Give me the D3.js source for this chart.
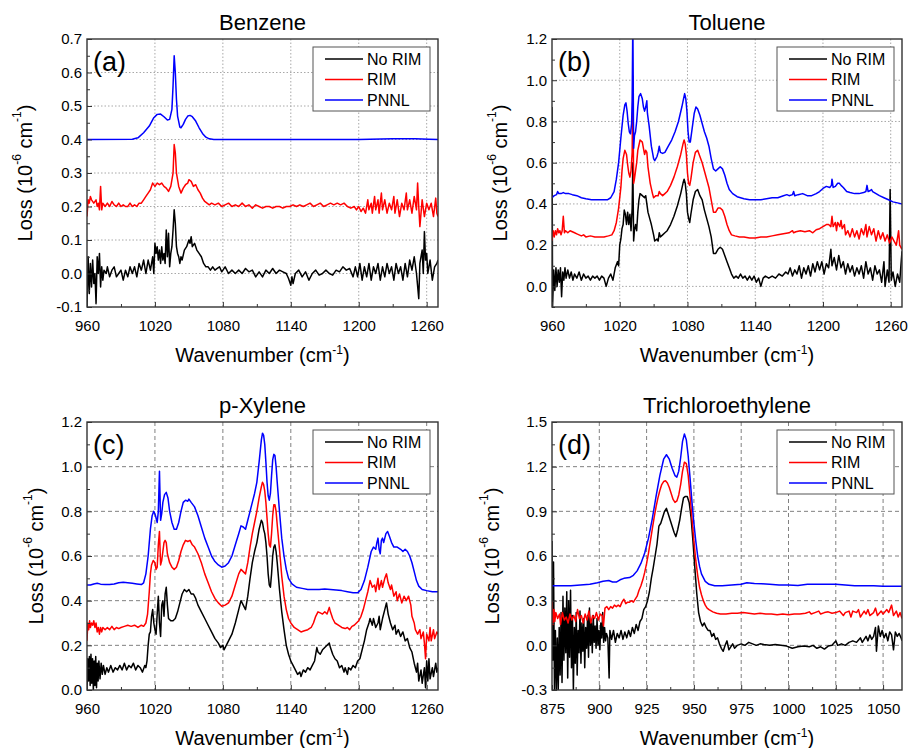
<!DOCTYPE html>
<html lang="en">
<head>
<meta charset="utf-8">
<title>Spectra</title>
<script src="https://d3js.org/d3.v7.min.js"></script>
<style>
  body { margin: 0; background: #fff; }
  svg text { font-family: "Liberation Sans", Arial, sans-serif; fill: #000; }
</style>
</head>
<body>
<svg id="chart" width="911" height="748"></svg>
<script>
// legend entries and colours
var seriesNames = ["No RIM", "RIM", "PNNL"];
var seriesColors = ["#000000", "#ff0000", "#0000ff"];

// ---- (a) Benzene ----
var benzeneNoRim = [[960,-0.1],[961,0.05],[962,-0.06],[963,0.03],[964,-0.04],[965,0.04],[966,-0.03],[967,0.0],[968,-0.09],[969,0.05],[970,0.0],[971,0.06],[972,-0.04],[973,0.02],[974,-0.02],[975,0.01],[977,0.0],[978,0.02],[980,-0.01],[982,0.01],[984,0.02],[986,-0.01],[988,0.0],[990,0.01],[992,-0.02],[994,0.01],[996,-0.01],[998,0.02],[1000,0.0],[1002,0.02],[1004,-0.01],[1006,0.03],[1008,0.01],[1010,0.04],[1012,0.0],[1014,0.04],[1016,0.01],[1018,0.05],[1019,0.0],[1020,0.09],[1021,0.06],[1022,0.08],[1023,0.04],[1024,0.07],[1025,0.03],[1026,0.08],[1027,0.04],[1028,0.06],[1029,0.03],[1030,0.13],[1031,0.05],[1032,0.12],[1033,0.02],[1034,0.06],[1035,0.08],[1036,0.13],[1037,0.19],[1038,0.15],[1039,0.08],[1040,0.06],[1041,0.05],[1042,0.03],[1043,0.05],[1044,0.04],[1046,0.07],[1048,0.08],[1050,0.1],[1051,0.09],[1052,0.11],[1053,0.08],[1055,0.09],[1057,0.07],[1059,0.06],[1061,0.05],[1063,0.03],[1065,0.02],[1067,0.02],[1069,0.01],[1071,0.02],[1073,0.01],[1075,0.015],[1077,0.02],[1079,0.005],[1082,0.02],[1085,0.0],[1088,0.01],[1091,0.0],[1094,0.01],[1097,0.0],[1100,0.015],[1103,0.005],[1106,0.01],[1109,-0.01],[1112,0.005],[1115,-0.01],[1118,0.01],[1121,0.0],[1124,0.015],[1127,0.0],[1130,0.01],[1133,0.005],[1136,0.0],[1138,-0.015],[1140,-0.035],[1141,-0.01],[1142,-0.03],[1144,0.0],[1147,0.01],[1150,-0.01],[1153,0.005],[1156,-0.02],[1159,0.0],[1162,0.01],[1165,-0.005],[1168,0.0],[1171,0.01],[1174,0.0],[1177,-0.005],[1180,0.01],[1183,0.005],[1186,0.02],[1189,0.01],[1192,0.015],[1195,-0.01],[1197,0.02],[1199,-0.01],[1201,0.03],[1203,-0.02],[1205,0.02],[1207,-0.01],[1209,0.03],[1211,-0.02],[1213,0.02],[1215,0.0],[1217,0.03],[1219,-0.02],[1221,0.02],[1223,-0.01],[1225,0.03],[1227,0.0],[1229,0.02],[1231,-0.02],[1233,0.03],[1235,0.0],[1237,0.02],[1239,-0.02],[1241,0.03],[1243,-0.01],[1245,0.04],[1247,0.01],[1249,0.05],[1251,0.0],[1253,-0.075],[1254,0.03],[1256,0.07],[1257,0.0],[1258,0.125],[1259,0.04],[1260,0.06],[1261,0.0],[1263,0.04],[1265,-0.02],[1267,0.02],[1269,0.03],[1270,0.04]];
var benzeneRim = [[960,0.17],[961,0.22],[962,0.21],[963,0.23],[964,0.22],[966,0.21],[968,0.22],[969,0.2],[970,0.21],[971,0.19],[972,0.26],[973,0.19],[974,0.21],[976,0.2],[978,0.21],[980,0.2],[982,0.215],[984,0.205],[986,0.2],[988,0.21],[990,0.2],[992,0.205],[994,0.2],[996,0.2],[998,0.21],[1000,0.2],[1002,0.205],[1004,0.2],[1006,0.21],[1008,0.21],[1010,0.22],[1012,0.23],[1014,0.24],[1016,0.25],[1018,0.27],[1020,0.26],[1022,0.27],[1024,0.265],[1026,0.27],[1028,0.26],[1030,0.255],[1032,0.245],[1034,0.26],[1036,0.3],[1037,0.385],[1038,0.36],[1039,0.3],[1041,0.26],[1043,0.24],[1045,0.255],[1047,0.265],[1049,0.27],[1050,0.28],[1052,0.275],[1054,0.26],[1056,0.265],[1058,0.25],[1060,0.24],[1062,0.225],[1064,0.215],[1066,0.21],[1068,0.205],[1070,0.21],[1073,0.205],[1076,0.21],[1079,0.2],[1082,0.205],[1085,0.21],[1088,0.2],[1091,0.205],[1094,0.2],[1097,0.21],[1100,0.2],[1103,0.205],[1106,0.195],[1109,0.205],[1112,0.2],[1115,0.195],[1118,0.2],[1121,0.2],[1124,0.195],[1127,0.2],[1130,0.2],[1133,0.195],[1136,0.2],[1139,0.2],[1142,0.205],[1145,0.2],[1148,0.205],[1151,0.2],[1154,0.205],[1157,0.21],[1160,0.2],[1163,0.205],[1166,0.21],[1169,0.2],[1172,0.205],[1175,0.21],[1178,0.205],[1181,0.21],[1184,0.205],[1187,0.21],[1190,0.2],[1193,0.195],[1196,0.2],[1198,0.19],[1200,0.2],[1202,0.185],[1204,0.195],[1206,0.18],[1208,0.22],[1209,0.19],[1211,0.21],[1212,0.18],[1214,0.23],[1215,0.19],[1217,0.22],[1218,0.18],[1220,0.24],[1221,0.19],[1223,0.22],[1225,0.18],[1227,0.21],[1229,0.19],[1231,0.23],[1232,0.18],[1234,0.22],[1236,0.17],[1238,0.21],[1240,0.19],[1242,0.24],[1243,0.19],[1245,0.22],[1247,0.18],[1249,0.23],[1251,0.19],[1252,0.27],[1253,0.2],[1254,0.14],[1256,0.22],[1258,0.17],[1260,0.21],[1262,0.19],[1264,0.21],[1266,0.17],[1268,0.225],[1269,0.18],[1270,0.17]];
var benzenePnnl = [[960,0.4],[1000,0.401],[1005,0.405],[1010,0.42],[1015,0.44],[1019,0.465],[1022,0.475],[1025,0.476],[1028,0.468],[1031,0.458],[1033,0.46],[1035,0.49],[1036,0.56],[1037,0.65],[1038,0.6],[1039,0.52],[1040,0.47],[1042,0.437],[1043,0.435],[1045,0.445],[1047,0.46],[1049,0.47],[1051,0.472],[1053,0.468],[1056,0.455],[1059,0.435],[1062,0.418],[1065,0.407],[1068,0.402],[1072,0.4],[1200,0.4],[1230,0.402],[1250,0.402],[1262,0.401],[1270,0.4]];

// ---- (b) Toluene ----
var tolueneNoRim = [[960,0.87],[960.5,-0.1],[961.5,0.08],[962.5,-0.02],[963.5,0.09],[964.5,0.0],[965.5,0.08],[966.5,0.02],[967.5,0.09],[968.5,-0.05],[969.5,0.07],[970.5,0.03],[971.5,0.09],[972.5,0.04],[974,0.08],[975.5,0.04],[977,0.07],[978.5,0.03],[980,0.06],[982,0.04],[984,0.07],[986,0.03],[988,0.06],[990,0.04],[992,0.05],[994,0.03],[996,0.05],[998,0.04],[1000,0.05],[1002,0.03],[1004,0.05],[1006,0.04],[1008,0.0],[1010,0.04],[1012,0.06],[1014,0.03],[1016,0.09],[1018,0.12],[1019,0.1],[1020,0.2],[1021,0.23],[1022,0.28],[1023,0.3],[1024,0.37],[1025,0.35],[1026,0.3],[1027,0.36],[1028,0.3],[1029,0.35],[1030,0.27],[1031,0.38],[1031.6,0.6],[1032.3,0.22],[1033,0.27],[1034,0.3],[1035,0.27],[1036,0.36],[1037,0.42],[1038,0.45],[1040,0.44],[1042,0.43],[1043,0.44],[1044,0.4],[1045,0.36],[1047,0.32],[1048,0.3],[1050,0.25],[1051,0.22],[1053,0.23],[1054,0.22],[1055,0.26],[1056,0.24],[1058,0.25],[1060,0.26],[1062,0.27],[1065,0.3],[1068,0.34],[1071,0.39],[1074,0.45],[1076,0.5],[1077,0.52],[1078,0.5],[1079,0.45],[1080,0.36],[1081,0.33],[1082,0.31],[1083,0.35],[1085,0.42],[1087,0.46],[1089,0.47],[1091,0.44],[1093,0.42],[1095,0.37],[1097,0.33],[1099,0.29],[1101,0.24],[1103,0.16],[1105,0.16],[1107,0.18],[1109,0.19],[1111,0.18],[1113,0.15],[1115,0.12],[1117,0.09],[1119,0.06],[1121,0.04],[1123,0.05],[1125,0.04],[1127,0.06],[1129,0.04],[1131,0.05],[1133,0.03],[1135,0.05],[1137,0.03],[1139,0.05],[1141,0.02],[1143,0.04],[1145,0.0],[1147,0.04],[1149,0.05],[1152,0.04],[1155,0.05],[1158,0.04],[1161,0.06],[1164,0.05],[1167,0.07],[1169,0.06],[1171,0.09],[1173,0.05],[1175,0.08],[1177,0.06],[1179,0.1],[1181,0.04],[1183,0.09],[1185,0.06],[1187,0.1],[1189,0.05],[1191,0.11],[1193,0.07],[1195,0.12],[1197,0.08],[1199,0.12],[1201,0.06],[1203,0.11],[1205,0.09],[1207,0.18],[1208,0.1],[1210,0.14],[1212,0.08],[1214,0.15],[1216,0.09],[1218,0.12],[1220,0.06],[1222,0.11],[1224,0.07],[1226,0.1],[1228,0.05],[1230,0.09],[1232,0.06],[1234,0.1],[1236,0.04],[1238,0.12],[1240,0.06],[1242,0.09],[1244,0.03],[1246,0.1],[1248,0.06],[1250,0.08],[1252,0.02],[1254,0.12],[1255,0.0],[1257,0.08],[1258.5,0.02],[1259.5,0.47],[1260.5,0.03],[1262,0.07],[1264,0.0],[1266,0.06],[1268,0.02],[1269,0.1],[1270,0.17]];
var tolueneRim = [[960,0.22],[961,0.27],[962,0.24],[963,0.27],[964,0.25],[965,0.28],[966,0.26],[967,0.27],[968,0.25],[969,0.27],[970,0.34],[971,0.26],[972,0.27],[974,0.26],[976,0.27],[978,0.265],[980,0.26],[982,0.255],[984,0.25],[986,0.245],[988,0.25],[990,0.24],[994,0.245],[998,0.24],[1002,0.24],[1006,0.24],[1010,0.245],[1013,0.25],[1015,0.27],[1017,0.31],[1019,0.38],[1021,0.48],[1022,0.56],[1023,0.62],[1024.5,0.66],[1026,0.64],[1027,0.59],[1028,0.55],[1029,0.53],[1030,0.56],[1031,0.65],[1031.6,1.02],[1032.3,0.5],[1033,0.52],[1034,0.56],[1035,0.6],[1036,0.66],[1038,0.71],[1040,0.7],[1041,0.67],[1042,0.64],[1043,0.66],[1044,0.65],[1045,0.58],[1047,0.5],[1049,0.45],[1050,0.43],[1052,0.44],[1054,0.44],[1055,0.46],[1056,0.45],[1058,0.44],[1060,0.45],[1062,0.46],[1065,0.49],[1068,0.53],[1071,0.58],[1074,0.64],[1076,0.69],[1077,0.71],[1078,0.69],[1079,0.64],[1080,0.55],[1081,0.5],[1082,0.49],[1083,0.52],[1085,0.6],[1087,0.65],[1089,0.66],[1091,0.63],[1093,0.6],[1095,0.56],[1097,0.52],[1099,0.48],[1101,0.42],[1103,0.36],[1105,0.36],[1107,0.38],[1109,0.38],[1111,0.37],[1113,0.34],[1115,0.3],[1117,0.27],[1119,0.25],[1122,0.245],[1126,0.24],[1130,0.24],[1135,0.235],[1140,0.235],[1145,0.24],[1150,0.24],[1155,0.245],[1160,0.25],[1165,0.255],[1170,0.26],[1173,0.27],[1174,0.26],[1176,0.265],[1180,0.27],[1184,0.265],[1188,0.27],[1191,0.26],[1194,0.275],[1197,0.28],[1200,0.29],[1203,0.3],[1205,0.3],[1207,0.29],[1208,0.34],[1209,0.29],[1211,0.31],[1212,0.27],[1213,0.31],[1215,0.29],[1216,0.32],[1217,0.28],[1219,0.3],[1220,0.25],[1222,0.27],[1224,0.24],[1226,0.28],[1228,0.24],[1230,0.27],[1232,0.23],[1234,0.28],[1236,0.25],[1238,0.3],[1239,0.24],[1241,0.29],[1243,0.25],[1245,0.28],[1247,0.22],[1249,0.27],[1251,0.23],[1253,0.26],[1255,0.22],[1257,0.25],[1259,0.21],[1261,0.24],[1263,0.22],[1265,0.2],[1267,0.27],[1268,0.2],[1270,0.18]];
var toluenePnnl = [[960,0.43],[962,0.44],[964,0.445],[965,0.46],[966,0.45],[968,0.45],[970,0.455],[972,0.45],[975,0.45],[978,0.445],[982,0.44],[986,0.43],[990,0.425],[995,0.42],[1000,0.42],[1005,0.42],[1009,0.42],[1012,0.43],[1015,0.46],[1017,0.52],[1019,0.6],[1021,0.72],[1023,0.83],[1024.5,0.88],[1025.5,0.89],[1026.5,0.85],[1027.5,0.79],[1028.5,0.75],[1029.5,0.74],[1030.5,0.79],[1031,0.9],[1031.6,1.3],[1032.3,0.67],[1033,0.73],[1034,0.75],[1035,0.8],[1036,0.87],[1037,0.92],[1038.5,0.935],[1040,0.91],[1041,0.87],[1042,0.85],[1043,0.87],[1044,0.9],[1044.5,0.84],[1046,0.78],[1048,0.68],[1050,0.62],[1051,0.61],[1052,0.62],[1053,0.63],[1054,0.65],[1055,0.68],[1056,0.65],[1058,0.645],[1060,0.65],[1063,0.68],[1066,0.71],[1069,0.75],[1072,0.8],[1075,0.87],[1076.5,0.91],[1077.5,0.935],[1078.5,0.91],[1079.5,0.85],[1080.5,0.75],[1081.5,0.7],[1082.5,0.7],[1084,0.76],[1086,0.84],[1087.5,0.87],[1089,0.86],[1091,0.83],[1093,0.79],[1095,0.75],[1097,0.72],[1099,0.68],[1101,0.62],[1103,0.57],[1105,0.56],[1107,0.57],[1109,0.58],[1111,0.57],[1113,0.54],[1115,0.5],[1117,0.47],[1120,0.45],[1124,0.435],[1130,0.425],[1135,0.42],[1140,0.42],[1145,0.42],[1150,0.425],[1155,0.43],[1160,0.43],[1165,0.44],[1168,0.445],[1170,0.44],[1173,0.445],[1174,0.46],[1175,0.44],[1178,0.445],[1182,0.45],[1186,0.44],[1190,0.44],[1194,0.45],[1197,0.46],[1200,0.475],[1203,0.485],[1206,0.48],[1207.5,0.49],[1208,0.52],[1209,0.48],[1211,0.485],[1213,0.5],[1214.5,0.5],[1216,0.49],[1218,0.48],[1221,0.46],[1224,0.455],[1228,0.45],[1232,0.45],[1236,0.455],[1238,0.46],[1239,0.49],[1240,0.46],[1242,0.465],[1243,0.47],[1244,0.46],[1247,0.45],[1250,0.44],[1254,0.43],[1258,0.42],[1262,0.41],[1266,0.405],[1270,0.4]];

// ---- (c) p-Xylene ----
var xyleneNoRim = [[960,0.0],[960.7,0.14],[961.4,0.04],[962.1,0.15],[962.8,0.02],[963.5,0.16],[964.2,0.03],[964.9,0.14],[965.6,0.0],[966.3,0.13],[967,0.02],[967.7,0.15],[968.4,0.01],[969.1,0.12],[969.8,0.04],[970.5,0.13],[971.5,0.05],[972.5,0.12],[973.5,0.07],[974.5,0.11],[976,0.07],[977.5,0.1],[979,0.08],[981,0.11],[983,0.08],[985,0.1],[987,0.09],[989,0.11],[991,0.09],[993,0.12],[995,0.09],[997,0.11],[999,0.1],[1001,0.12],[1003,0.09],[1005,0.11],[1007,0.1],[1009,0.08],[1011,0.11],[1012,0.1],[1013,0.13],[1014,0.2],[1015,0.25],[1016,0.26],[1017,0.33],[1018,0.36],[1019,0.3],[1020,0.27],[1021,0.25],[1022,0.34],[1023,0.42],[1024,0.3],[1025,0.24],[1026,0.38],[1027,0.4],[1028,0.33],[1029,0.43],[1030,0.46],[1031,0.38],[1032,0.32],[1034,0.31],[1036,0.31],[1038,0.32],[1040,0.35],[1042,0.39],[1044,0.43],[1046,0.45],[1048,0.44],[1050,0.45],[1052,0.43],[1054,0.43],[1056,0.41],[1058,0.38],[1061,0.35],[1064,0.32],[1067,0.29],[1070,0.26],[1073,0.23],[1076,0.21],[1078,0.19],[1080,0.2],[1081,0.18],[1083,0.2],[1085,0.22],[1088,0.25],[1091,0.3],[1094,0.36],[1096,0.4],[1098,0.38],[1100,0.36],[1102,0.42],[1104,0.5],[1106,0.57],[1108,0.62],[1110,0.66],[1112,0.72],[1114,0.76],[1115,0.75],[1116,0.72],[1117,0.7],[1118,0.66],[1119,0.6],[1120,0.52],[1121,0.47],[1122,0.46],[1123,0.52],[1124,0.6],[1125,0.64],[1126,0.65],[1127,0.62],[1128,0.57],[1130,0.45],[1132,0.35],[1134,0.27],[1136,0.2],[1138,0.16],[1140,0.13],[1142,0.11],[1144,0.09],[1146,0.07],[1148,0.08],[1149,0.06],[1151,0.09],[1153,0.08],[1155,0.1],[1157,0.09],[1159,0.11],[1161,0.13],[1163,0.19],[1164,0.17],[1166,0.16],[1168,0.18],[1170,0.19],[1172,0.2],[1174,0.21],[1175,0.19],[1177,0.16],[1179,0.14],[1181,0.13],[1183,0.1],[1185,0.11],[1187,0.08],[1188,0.1],[1190,0.07],[1191,0.1],[1193,0.09],[1195,0.11],[1197,0.1],[1199,0.13],[1201,0.14],[1203,0.18],[1205,0.22],[1207,0.27],[1209,0.3],[1210,0.32],[1212,0.29],[1213,0.32],[1215,0.28],[1217,0.3],[1218,0.33],[1219,0.27],[1221,0.32],[1223,0.36],[1224.5,0.39],[1226,0.34],[1228,0.3],[1230,0.27],[1232,0.29],[1233,0.25],[1235,0.27],[1237,0.24],[1239,0.26],[1241,0.22],[1243,0.23],[1245,0.19],[1247,0.17],[1249,0.12],[1251,0.08],[1252,0.12],[1253,0.04],[1255,0.09],[1256,0.03],[1258,0.1],[1259,0.01],[1260,0.13],[1261,0.04],[1262,0.14],[1263,0.05],[1265,0.1],[1266,0.06],[1268,0.12],[1269,0.08],[1270,0.1]];
var xyleneRim = [[960,0.22],[960.7,0.3],[961.5,0.27],[962.3,0.31],[963,0.28],[964,0.3],[965,0.29],[966,0.31],[967,0.28],[968,0.3],[969,0.26],[970,0.28],[971,0.25],[972,0.28],[973,0.26],[974,0.28],[976,0.27],[978,0.28],[980,0.27],[982,0.285],[984,0.27],[986,0.28],[988,0.275],[990,0.28],[993,0.285],[996,0.29],[999,0.285],[1002,0.29],[1005,0.28],[1008,0.29],[1010,0.285],[1012,0.3],[1013.5,0.34],[1015,0.44],[1016,0.52],[1017,0.56],[1018.5,0.58],[1020,0.57],[1021,0.54],[1022,0.55],[1023,0.65],[1024,0.71],[1025,0.56],[1026,0.58],[1027,0.62],[1028,0.66],[1029,0.67],[1030,0.66],[1031,0.61],[1033,0.57],[1035,0.55],[1037,0.54],[1039,0.55],[1041,0.58],[1043,0.62],[1045,0.65],[1047,0.67],[1049,0.665],[1051,0.67],[1053,0.65],[1055,0.64],[1058,0.61],[1061,0.57],[1064,0.52],[1067,0.48],[1070,0.44],[1073,0.41],[1076,0.39],[1079,0.375],[1082,0.38],[1085,0.39],[1088,0.42],[1091,0.47],[1094,0.52],[1096,0.54],[1098,0.53],[1100,0.52],[1102,0.57],[1104,0.64],[1106,0.7],[1108,0.75],[1110,0.8],[1112,0.86],[1114,0.91],[1115,0.93],[1116,0.92],[1117,0.89],[1118,0.84],[1119,0.77],[1120,0.7],[1121,0.65],[1122,0.64],[1123,0.7],[1124,0.78],[1125,0.83],[1126,0.83],[1127,0.8],[1128,0.74],[1130,0.63],[1132,0.51],[1134,0.42],[1136,0.36],[1138,0.32],[1140,0.3],[1143,0.28],[1146,0.27],[1149,0.26],[1152,0.265],[1155,0.27],[1158,0.28],[1160,0.3],[1162,0.33],[1164,0.35],[1166,0.345],[1168,0.34],[1170,0.35],[1172,0.34],[1174,0.37],[1175,0.35],[1177,0.32],[1179,0.3],[1182,0.29],[1185,0.28],[1188,0.275],[1190,0.28],[1192,0.27],[1194,0.285],[1196,0.29],[1198,0.3],[1200,0.31],[1202,0.33],[1204,0.36],[1206,0.4],[1208,0.44],[1210,0.49],[1212,0.46],[1214,0.47],[1215,0.44],[1217,0.5],[1218,0.45],[1220,0.49],[1221,0.46],[1223,0.5],[1224.5,0.52],[1226,0.48],[1228,0.45],[1229,0.47],[1231,0.42],[1233,0.44],[1234,0.4],[1236,0.43],[1238,0.39],[1240,0.42],[1242,0.4],[1244,0.42],[1246,0.38],[1247,0.33],[1249,0.3],[1250,0.27],[1252,0.25],[1254,0.27],[1255,0.23],[1257,0.26],[1258,0.21],[1259,0.14],[1260,0.25],[1262,0.22],[1263,0.28],[1264,0.22],[1266,0.27],[1267,0.23],[1269,0.26],[1270,0.25]];
var xylenePnnl = [[960,0.47],[963,0.47],[966,0.475],[969,0.478],[972,0.474],[976,0.472],[980,0.472],[984,0.475],[988,0.48],[992,0.482],[996,0.48],[1000,0.478],[1004,0.475],[1008,0.472],[1010,0.48],[1012,0.52],[1014,0.6],[1016,0.72],[1017.5,0.78],[1019,0.8],[1020.5,0.78],[1022,0.75],[1023,0.8],[1024,0.98],[1025,0.76],[1026,0.79],[1027,0.84],[1028.5,0.875],[1030,0.885],[1031.5,0.86],[1033,0.8],[1035,0.75],[1037,0.72],[1039,0.72],[1041,0.75],[1043,0.8],[1045,0.84],[1047,0.85],[1049,0.845],[1050,0.855],[1052,0.84],[1055,0.82],[1058,0.78],[1061,0.73],[1064,0.68],[1067,0.64],[1070,0.6],[1073,0.575],[1076,0.56],[1079,0.55],[1082,0.555],[1085,0.57],[1088,0.6],[1091,0.65],[1094,0.7],[1096,0.735],[1098,0.73],[1100,0.72],[1102,0.76],[1104,0.8],[1106,0.84],[1108,0.88],[1110,0.93],[1112,1.02],[1114,1.12],[1115,1.15],[1116,1.14],[1117,1.1],[1118,1.02],[1119,0.93],[1120,0.87],[1121,0.85],[1122,0.88],[1123,0.96],[1124,1.03],[1125,1.055],[1126,1.05],[1127,1.0],[1128,0.93],[1130,0.8],[1132,0.68],[1134,0.6],[1136,0.54],[1138,0.5],[1141,0.475],[1145,0.46],[1150,0.455],[1155,0.45],[1160,0.45],[1165,0.45],[1170,0.452],[1175,0.45],[1180,0.448],[1185,0.445],[1190,0.44],[1195,0.435],[1199,0.435],[1202,0.45],[1205,0.49],[1208,0.55],[1211,0.62],[1213,0.64],[1215,0.63],[1216,0.66],[1217,0.68],[1218,0.63],[1219,0.61],[1220,0.67],[1221,0.68],[1222,0.66],[1224,0.7],[1225.5,0.71],[1227,0.69],[1229,0.66],[1231,0.64],[1234,0.64],[1237,0.63],[1239,0.62],[1241,0.63],[1243,0.62],[1245,0.6],[1247,0.57],[1249,0.53],[1251,0.49],[1253,0.465],[1256,0.45],[1260,0.445],[1265,0.44],[1270,0.44]];

// ---- (d) Trichloroethylene ----
var tceNoRim = [[875,0.7],[875.4,-0.1],[875.8,0.56],[876.3,-0.3],[876.8,0.1],[877.3,-0.3],[877.8,0.05],[878.3,-0.3],[878.8,0.12],[879.3,-0.2],[879.8,0.22],[880.3,-0.25],[880.8,0.33],[881.3,-0.1],[881.8,0.25],[882.3,-0.05],[882.8,0.36],[883.3,-0.22],[883.8,0.3],[884.3,-0.08],[884.8,0.37],[885.3,-0.15],[885.8,0.2],[886.3,-0.3],[886.8,0.12],[887.3,-0.12],[887.8,0.22],[888.3,-0.2],[888.8,0.1],[889.3,-0.05],[889.8,0.23],[890.3,-0.12],[890.8,0.15],[891.3,-0.04],[891.8,0.18],[892.3,-0.15],[892.8,0.12],[893.3,-0.02],[893.8,0.2],[894.3,-0.08],[894.8,0.25],[895.3,0.0],[895.8,0.15],[896.3,-0.05],[896.8,0.2],[897.3,0.02],[897.8,0.13],[898.3,-0.02],[898.8,0.18],[899.3,0.0],[899.8,0.1],[900.3,-0.03],[900.8,0.15],[901.3,0.05],[901.8,0.22],[902.3,0.02],[902.8,0.12],[903.3,0.03],[903.8,0.08],[904.5,0.05],[905.2,-0.22],[905.6,0.1],[906.5,0.04],[907.5,0.1],[908.5,0.02],[909.5,0.08],[910.5,0.05],[911.5,0.1],[912.5,0.04],[913.5,0.09],[914.5,0.05],[915.5,0.1],[916.5,0.06],[917.5,0.12],[918.5,0.08],[919.5,0.14],[920.5,0.1],[921.5,0.16],[922.5,0.18],[923.5,0.24],[924.5,0.26],[925.5,0.3],[926.5,0.36],[927.5,0.45],[928.5,0.52],[929.5,0.6],[930.5,0.68],[931.5,0.8],[932.5,0.82],[933.5,0.86],[934.5,0.9],[935.5,0.92],[936.5,0.88],[937.5,0.84],[938.5,0.8],[939.5,0.76],[940.5,0.73],[941.5,0.78],[942.5,0.84],[943.5,0.92],[944.5,0.99],[945.5,1.0],[946.5,1.0],[947.5,0.96],[948.5,0.86],[949.5,0.7],[950.5,0.52],[951.5,0.35],[952.5,0.22],[953.5,0.16],[954.5,0.13],[955.5,0.15],[956.5,0.12],[957.5,0.1],[958.5,0.1],[959.5,0.06],[960.5,0.08],[961.5,0.04],[962.5,0.05],[963.5,0.01],[964.5,-0.02],[965.5,-0.04],[966.5,0.0],[967.5,0.03],[968.5,-0.03],[969.5,-0.01],[970.5,0.01],[971.5,-0.02],[973,0.0],[975,0.01],[977,0.0],[979,0.02],[981,0.01],[983,0.0],[985,0.01],[987,0.005],[990,0.0],[993,0.005],[996,0.0],[999,-0.005],[1002,-0.02],[1005,-0.01],[1008,-0.005],[1011,-0.01],[1013,0.0],[1015,-0.02],[1017,-0.01],[1019,-0.025],[1021,-0.005],[1023,0.0],[1025,0.03],[1026,0.0],[1028,0.01],[1030,0.0],[1032,0.02],[1034,0.03],[1036,0.02],[1038,0.05],[1039,0.02],[1041,0.06],[1042,0.03],[1043,0.07],[1044,0.04],[1045,0.06],[1046,0.12],[1046.5,-0.04],[1047.5,0.13],[1048.5,0.06],[1049.5,0.1],[1050.5,0.05],[1051.5,0.08],[1052.5,0.03],[1053.5,0.09],[1054.5,0.07],[1055.5,-0.03],[1056.5,0.09],[1057.5,0.06],[1058.5,0.08],[1059.5,0.05],[1060,0.03]];
var tceRim = [[875,0.3],[875.5,0.14],[876,0.24],[876.5,0.16],[877,0.22],[878,0.18],[879,0.21],[879.5,0.14],[880.5,0.22],[881.5,0.17],[882.5,0.19],[883.5,0.15],[884.5,0.21],[885.5,0.17],[886.5,0.2],[887.5,0.16],[888.5,0.24],[889.5,0.18],[890.5,0.2],[891.5,0.15],[892.5,0.21],[893.5,0.17],[894.5,0.23],[895.5,0.15],[896.5,0.2],[897.5,0.18],[898.5,0.22],[899.5,0.17],[900.5,0.21],[901.5,0.2],[902.2,0.13],[903,0.25],[904,0.26],[905,0.24],[906,0.26],[907,0.25],[908,0.27],[909,0.26],[910,0.27],[911,0.26],[912,0.29],[913,0.31],[914,0.28],[915,0.29],[916,0.29],[917,0.3],[918,0.29],[919,0.31],[920,0.33],[921,0.37],[922,0.4],[923,0.44],[924,0.49],[925,0.55],[926,0.62],[927,0.7],[928,0.78],[929,0.86],[930,0.93],[931,0.99],[932,1.04],[933,1.08],[934,1.1],[935,1.105],[936,1.09],[937,1.06],[938,1.02],[939,0.98],[940,0.96],[941,0.97],[942,1.01],[943,1.08],[944,1.17],[945,1.23],[946,1.22],[947,1.14],[948,1.0],[949,0.85],[950,0.7],[951,0.57],[952,0.47],[953,0.39],[954,0.34],[955,0.3],[956,0.27],[957,0.25],[958,0.24],[960,0.225],[962,0.215],[964,0.21],[967,0.21],[970,0.215],[973,0.215],[976,0.22],[979,0.215],[982,0.21],[985,0.215],[988,0.21],[991,0.21],[994,0.205],[997,0.21],[1000,0.205],[1003,0.21],[1006,0.21],[1009,0.215],[1011,0.225],[1012,0.21],[1014,0.22],[1016,0.23],[1017,0.21],[1019,0.22],[1021,0.225],[1023,0.215],[1025,0.22],[1027,0.23],[1029,0.2],[1030,0.22],[1032,0.23],[1033,0.19],[1034,0.23],[1036,0.22],[1037,0.24],[1038,0.19],[1040,0.23],[1041,0.21],[1042,0.24],[1043,0.2],[1045,0.22],[1046,0.25],[1047,0.2],[1049,0.23],[1050,0.21],[1052,0.24],[1053,0.22],[1054.5,0.27],[1055.5,0.2],[1057,0.23],[1058,0.19],[1059,0.22],[1060,0.18]];
var tcePnnl = [[875,0.4],[880,0.4],[885,0.4],[890,0.405],[895,0.41],[899,0.42],[902,0.43],[905,0.435],[907,0.425],[909,0.425],[911,0.44],[913,0.45],[916,0.455],[918,0.47],[920,0.5],[922,0.55],[924,0.62],[926,0.72],[928,0.85],[930,1.0],[932,1.14],[934,1.25],[935.5,1.28],[937,1.25],[938.5,1.19],[940,1.14],[941,1.13],[942,1.17],[943,1.26],[944,1.37],[945,1.42],[946,1.38],[947,1.27],[948,1.12],[949,0.96],[950,0.82],[951,0.7],[952,0.6],[953,0.53],[954,0.48],[956,0.43],[958,0.41],[961,0.4],[965,0.4],[970,0.405],[975,0.41],[978,0.42],[982,0.415],[986,0.413],[990,0.41],[995,0.405],[1000,0.405],[1005,0.402],[1010,0.41],[1015,0.41],[1020,0.41],[1025,0.41],[1030,0.405],[1035,0.4],[1040,0.4],[1045,0.4],[1050,0.397],[1055,0.397],[1060,0.397]];

// tick values
var wnTicks = [960, 1020, 1080, 1140, 1200, 1260];
var wnMinor = [990, 1050, 1110, 1170, 1230];
var tceTicks = [875, 900, 925, 950, 975, 1000, 1025, 1050];
var tceMinor = [887.5, 912.5, 937.5, 962.5, 987.5, 1012.5, 1037.5];
var benzeneYTicks = [-0.1, 0.0, 0.1, 0.2, 0.3, 0.4, 0.5, 0.6, 0.7];
var benzeneYMinor = [-0.05, 0.05, 0.15, 0.25, 0.35, 0.45, 0.55, 0.65];
var tolueneYTicks = [0.0, 0.2, 0.4, 0.6, 0.8, 1.0, 1.2];
var tolueneYMinor = [-0.1, 0.1, 0.3, 0.5, 0.7, 0.9, 1.1];
var xyleneYTicks = [0.0, 0.2, 0.4, 0.6, 0.8, 1.0, 1.2];
var xyleneYMinor = [0.1, 0.3, 0.5, 0.7, 0.9, 1.1];
var tceYTicks = [-0.3, 0.0, 0.3, 0.6, 0.9, 1.2, 1.5];
var tceYMinor = [-0.15, 0.15, 0.45, 0.75, 1.05, 1.35];

var panels = [
  { title: "Benzene", tag: "(a)", left: 87, top: 39, w: 351, h: 268, yLab: 62,
    xDom: [960, 1270], yDom: [-0.1, 0.7], xt: wnTicks, xm: wnMinor, yt: benzeneYTicks, ym: benzeneYMinor,
    grid: "dot", series: [benzeneNoRim, benzeneRim, benzenePnnl] },
  { title: "Toluene", tag: "(b)", left: 552, top: 39, w: 350, h: 268, yLab: 52,
    xDom: [960, 1270], yDom: [-0.1, 1.2], xt: wnTicks, xm: wnMinor, yt: tolueneYTicks, ym: tolueneYMinor,
    grid: "dot", series: [tolueneNoRim, tolueneRim, toluenePnnl] },
  { title: "p-Xylene", tag: "(c)", left: 87, top: 422, w: 351, h: 268, yLab: 51,
    xDom: [960, 1270], yDom: [0, 1.2], xt: wnTicks, xm: wnMinor, yt: xyleneYTicks, ym: xyleneYMinor,
    grid: "dash", series: [xyleneNoRim, xyleneRim, xylenePnnl] },
  { title: "Trichloroethylene", tag: "(d)", left: 552, top: 422, w: 350, h: 268, yLab: 60,
    xDom: [875, 1060], yDom: [-0.3, 1.5], xt: tceTicks, xm: tceMinor, yt: tceYTicks, ym: tceYMinor,
    grid: "dash", series: [tceNoRim, tceRim, tcePnnl] }
];

var svg = d3.select("#chart");
var fmt = d3.format(".1f");
var axisCol = "#333";

panels.forEach(function (p, pi) {
  var x = d3.scaleLinear().domain(p.xDom).range([0, p.w]);
  var y = d3.scaleLinear().domain(p.yDom).range([p.h, 0]);
  var g = svg.append("g").attr("transform", "translate(" + p.left + "," + p.top + ")");

  // grid
  var gridStyle = p.grid === "dot"
    ? { c: "#a8a8a8", d: "1.5,2" }
    : { c: "#808080", d: "4,3" };
  g.append("g").selectAll("line")
    .data(p.xt.filter(function (v) { return v > p.xDom[0] && v < p.xDom[1]; }))
    .join("line")
    .attr("x1", function (d) { return x(d); }).attr("x2", function (d) { return x(d); })
    .attr("y1", 0).attr("y2", p.h)
    .attr("stroke", gridStyle.c).attr("stroke-dasharray", gridStyle.d);
  g.append("g").selectAll("line")
    .data(p.yt.filter(function (v) { return v > p.yDom[0] + 1e-9 && v < p.yDom[1] - 1e-9; }))
    .join("line")
    .attr("y1", function (d) { return y(d); }).attr("y2", function (d) { return y(d); })
    .attr("x1", 0).attr("x2", p.w)
    .attr("stroke", gridStyle.c).attr("stroke-dasharray", gridStyle.d);

  // data lines, clipped to the frame
  var clipId = "clip" + pi;
  g.append("clipPath").attr("id", clipId)
    .append("rect").attr("width", p.w).attr("height", p.h);
  var line = d3.line().x(function (d) { return x(d[0]); }).y(function (d) { return y(d[1]); });
  var lines = g.append("g").attr("clip-path", "url(#" + clipId + ")");
  p.series.forEach(function (s, i) {
    lines.append("path").datum(s)
      .attr("d", line)
      .attr("fill", "none")
      .attr("stroke", seriesColors[i])
      .attr("stroke-width", 1.5)
      .attr("stroke-linejoin", "round");
  });

  // axes: major ticks inward with labels, minor ticks inward
  var xAxis = g.append("g").attr("transform", "translate(0," + p.h + ")")
    .call(d3.axisBottom(x).tickValues(p.xt).tickSize(-5).tickPadding(13).tickFormat(d3.format("d")));
  g.append("g").attr("transform", "translate(0," + p.h + ")")
    .call(d3.axisBottom(x).tickValues(p.xm).tickSize(-3).tickFormat(""));
  var yAxis = g.append("g")
    .call(d3.axisLeft(y).tickValues(p.yt).tickSize(-5).tickPadding(5)
      .tickFormat(function (d) { return fmt(d).replace("\u2212", "-"); }));
  g.append("g")
    .call(d3.axisLeft(y).tickValues(p.ym).tickSize(-3).tickFormat(""));
  g.selectAll(".domain").remove();
  g.selectAll(".tick line").attr("stroke", axisCol).attr("stroke-width", 1);
  xAxis.selectAll("text").attr("font-size", 15).attr("fill", "#000");
  yAxis.selectAll("text").attr("font-size", 15).attr("fill", "#000");
  g.selectAll(".tick text").attr("font-family", "Liberation Sans, Arial, sans-serif");

  // frame
  g.append("rect").attr("width", p.w).attr("height", p.h)
    .attr("fill", "none").attr("stroke", axisCol).attr("stroke-width", 1.4);

  // title and panel tag
  g.append("text").attr("x", p.w / 2).attr("y", -9)
    .attr("text-anchor", "middle").attr("font-size", 22).text(p.title);
  g.append("text").attr("x", 6).attr("y", 32).attr("font-size", 27).text(p.tag);

  // x label
  var xl = g.append("text").attr("x", p.w / 2).attr("y", p.h + 55)
    .attr("text-anchor", "middle").attr("font-size", 20);
  xl.append("tspan").text("Wavenumber (cm");
  xl.append("tspan").attr("dy", -8).attr("font-size", 12).text("-1");
  xl.append("tspan").attr("dy", 8).text(")");

  // y label
  var yl = g.append("text")
    .attr("transform", "translate(" + (-p.yLab) + "," + (p.h / 2) + ") rotate(-90)")
    .attr("text-anchor", "middle").attr("dominant-baseline", "central").attr("font-size", 20);
  yl.append("tspan").text("Loss (10");
  yl.append("tspan").attr("dy", -8).attr("font-size", 12).text("-6");
  yl.append("tspan").attr("dy", 8).text(" cm");
  yl.append("tspan").attr("dy", -8).attr("font-size", 12).text("-1");
  yl.append("tspan").attr("dy", 8).text(")");

  // legend
  var lw = 117, lh = 64;
  var lg = g.append("g").attr("transform", "translate(" + (p.w - 8 - lw) + ",8)");
  lg.append("rect").attr("width", lw).attr("height", lh)
    .attr("fill", "#fff").attr("stroke", "#555").attr("stroke-width", 1);
  seriesNames.forEach(function (n, i) {
    var ry = 12 + i * 20.5;
    lg.append("line").attr("x1", 12).attr("x2", 50).attr("y1", ry).attr("y2", ry)
      .attr("stroke", seriesColors[i]).attr("stroke-width", 1.3);
    lg.append("text").attr("x", 54).attr("y", ry).attr("dy", "0.36em")
      .attr("font-size", 16).text(n);
  });
});
</script>
</body>
</html>
